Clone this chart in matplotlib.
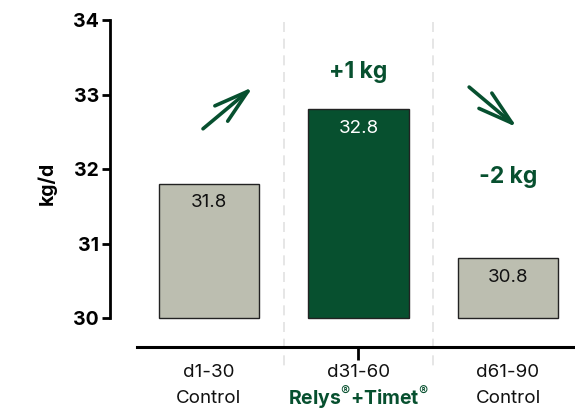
import matplotlib.pyplot as plt

plt.rcParams['font.family'] = ['Inter', 'DejaVu Sans']
plt.rcParams['mathtext.fontset'] = 'custom'
plt.rcParams['mathtext.rm'] = 'Inter'
plt.rcParams['mathtext.bf'] = 'Inter:bold'

# data
periods = ['d1-30', 'd31-60', 'd61-90']
groups = ['Control', r'$\mathbf{Relys}^{\circledR}\mathbf{+Timet}^{\circledR}$', 'Control']
values = [31.8, 32.8, 30.8]
changes = ['+1 kg', '-2 kg']

green = '#07502F'
grey = '#BCBEB0'
bar_colors = [grey, green, grey]
text_colors = ['#111111', 'white', '#111111']

fig = plt.figure(figsize=(5.75, 4.11), dpi=100)
ax = fig.add_axes([0.1913, 0.1557, 0.8087, 0.7956])

x = list(range(len(values)))
base = 30
ax.bar(x, [v - base for v in values], bottom=base, width=0.67,
       color=bar_colors, edgecolor='#222222', linewidth=1, zorder=3)

for i, v in enumerate(values):
    ax.annotate(f'{v}', xy=(i, v), xytext=(0, -19), textcoords='offset pixels',
                ha='center', va='center', fontsize=13.5, color=text_colors[i], zorder=4)

ax.set_xlim(-0.662, 2.448)
ax.set_ylim(34 - 327 / 74.5, 34)

# dashed separators
for s in [0.5, 1.5]:
    ax.plot([s, s], [33.97, 29.28], color='#e2e2e2', lw=1.2, ls=(0, (6, 4)),
            clip_on=False, zorder=1)

# spines
for sp in ['top', 'right']:
    ax.spines[sp].set_visible(False)
ax.spines['left'].set_bounds(30, 34)
ax.spines['left'].set_linewidth(2)
ax.spines['bottom'].set_bounds(-0.48, 2.448)
ax.spines['bottom'].set_linewidth(2.2)

ax.set_yticks([30, 31, 32, 33, 34])
ax.tick_params(axis='y', length=6, width=2, pad=2, labelsize=14)
for lab in ax.get_yticklabels():
    lab.set_fontweight('bold')
ax.set_ylabel('kg/d', fontsize=14, fontweight='bold', labelpad=12)

ax.set_xticks([1])
ax.set_xticklabels([''])
ax.tick_params(axis='x', length=9, width=2)

# category labels
for i in x:
    ax.annotate(periods[i], xy=(i, 0), xycoords=('data', 'axes fraction'),
                xytext=(0, -25), textcoords='offset pixels',
                ha='center', va='center', fontsize=13.5, color='#111111')
    bold = i == 1
    ax.annotate(groups[i], xy=(i, 0), xycoords=('data', 'axes fraction'),
                xytext=(0, -51), textcoords='offset pixels',
                ha='center', va='center', fontsize=14 if bold else 13.5,
                color=green if bold else '#111111')

# change labels and arrows
ax.text(1, 33.3, changes[0], ha='center', va='center', fontsize=16.5,
        fontweight='bold', color=green)
ax.text(2, 31.89, changes[1], ha='center', va='center', fontsize=16.5,
        fontweight='bold', color=green)

arrow = dict(arrowstyle='->,head_length=1.25,head_width=0.36', color=green,
             lw=2.6, mutation_scale=20, shrinkA=0, shrinkB=0)
ax.annotate('', xy=(0.294, 33.10), xytext=(-0.04, 32.54), arrowprops=arrow)
ax.annotate('', xy=(2.06, 32.56), xytext=(1.74, 33.10), arrowprops=arrow)

fig.savefig('out.png', dpi=100)
